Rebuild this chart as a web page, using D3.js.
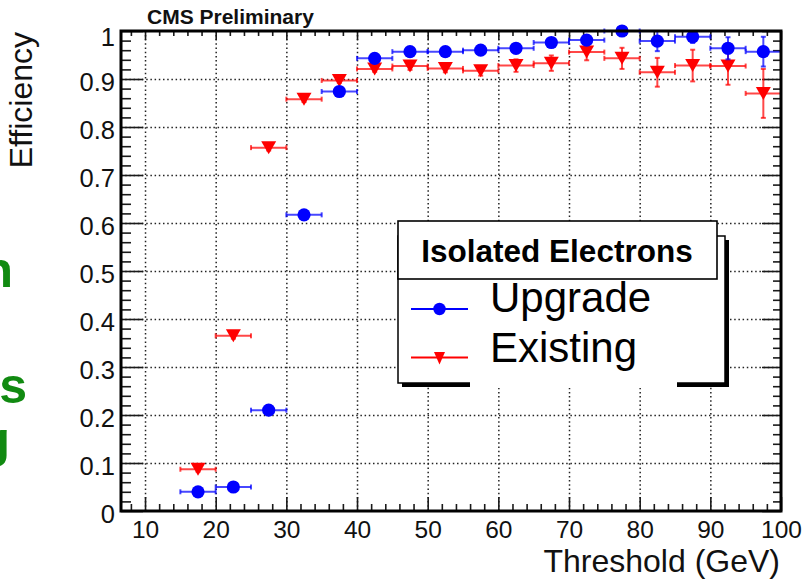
<!DOCTYPE html>
<html><head><meta charset="utf-8">
<script src="https://cdn.jsdelivr.net/npm/d3@7"></script>
<style>
body{margin:0;background:#fff}
svg{display:block}
text{font-family:"Liberation Sans",Arial,Helvetica,sans-serif}
</style>
</head><body>
<svg id="c" width="807" height="585"></svg>
<script>
// ---- data ----
const thresholds = [17.5,22.5,27.5,32.5,37.5,42.5,47.5,52.5,57.5,62.5,67.5,72.5,77.5,82.5,87.5,92.5,97.5];
const binHalfWidth = [2.5,2.5,2.5,2.5,2.5,2.5,2.5,2.5,2.5,2.5,2.5,2.5,2.5,2.5,2.5,2.5,2.5];
const upgrade    = [0.040,0.050,0.210,0.617,0.874,0.943,0.957,0.957,0.960,0.964,0.976,0.981,1.000,0.979,0.988,0.964,0.957];
const upgradeErr = [0.004,0.005,0.008,0.010,0.008,0.006,0.006,0.006,0.006,0.007,0.008,0.008,0.006,0.021,0.013,0.023,0.031];
const existing    = [0.087,0.365,0.757,0.858,0.897,0.921,0.927,0.922,0.917,0.928,0.933,0.956,0.943,0.914,0.928,0.927,0.870];
const existingErr = [0.005,0.006,0.006,0.006,0.005,0.006,0.008,0.008,0.010,0.013,0.016,0.017,0.022,0.030,0.033,0.039,0.051];
const xTickValues = [10,20,30,40,50,60,70,80,90,100];
const xTickLabels = ["10","20","30","40","50","60","70","80","90","100"];
const yTickValues = [0,0.1,0.2,0.3,0.4,0.5,0.6,0.7,0.8,0.9,1];
const yTickLabels = ["0","0.1","0.2","0.3","0.4","0.5","0.6","0.7","0.8","0.9","1"];
const seriesNames = ["Upgrade","Existing"];
const legendTitle = "Isolated Electrons";
const xTitle = "Threshold (GeV)";
const yTitle = "Efficiency";
const topLabel = "CMS Preliminary";
const sideLetters = ["n","s","g"];

// ---- layout ----
const L=121, R=781, T=31, B=511;
const svg = d3.select('#c');
const x = d3.scaleLinear().domain([6.6,100]).range([L,R]);
const y = d3.scaleLinear().domain([0,1]).range([B,T]);
const BLUE = '#0000ff', RED = '#ff0000';

const xMinor = d3.range(8,101,2).filter(v=>v%10!==0);
const yMinor = d3.range(0,51).map(i=>i/50).filter(v=>Math.round(v*50)%5!==0);

// side green letters (ends of slide text cut by the left edge, as in the reference)
const side = svg.append('g').attr('fill','#118a11').attr('font-weight','bold').attr('font-size',50).attr('text-anchor','end');
side.append('text').attr('x',13).attr('y',287).text(sideLetters[0]);
side.append('text').attr('x',27).attr('y',403).text(sideLetters[1]);
side.append('text').attr('x',10).attr('y',457).text(sideLetters[2]);

// grid
const gx = svg.append('g').attr('transform',`translate(0,${B})`)
  .call(d3.axisBottom(x).tickValues(xTickValues.filter(v=>v<100)).tickSize(-(B-T)).tickFormat(''));
const gy = svg.append('g').attr('transform',`translate(${L},0)`)
  .call(d3.axisLeft(y).tickValues(yTickValues.filter(v=>v>0&&v<1)).tickSize(-(R-L)).tickFormat(''));
[gx,gy].forEach(g=>{
  g.select('.domain').remove();
  g.selectAll('line').attr('stroke','#222').attr('stroke-width',1.5).attr('stroke-dasharray','1.5,2.7');
});

// ticks
function tickAxis(axis, tr, vals, size){
  const g = svg.append('g').attr('transform',tr)
    .call(axis.tickValues(vals).tickSizeInner(-size).tickSizeOuter(0).tickFormat(''));
  g.select('.domain').remove();
  g.selectAll('line').attr('stroke','#1a1a1a').attr('stroke-width',1.6);
  return g;
}
tickAxis(d3.axisBottom(x), `translate(0,${B})`, xTickValues, 14);
tickAxis(d3.axisBottom(x), `translate(0,${B})`, xMinor, 7);
tickAxis(d3.axisTop(x), `translate(0,${T})`, xTickValues, 9);
tickAxis(d3.axisTop(x), `translate(0,${T})`, xMinor, 5);
tickAxis(d3.axisLeft(y), `translate(${L},0)`, yTickValues, 22);
tickAxis(d3.axisLeft(y), `translate(${L},0)`, yMinor, 10);
tickAxis(d3.axisRight(y), `translate(${R},0)`, yTickValues, 19);
tickAxis(d3.axisRight(y), `translate(${R},0)`, yMinor, 8);

// tick labels
const xl = svg.append('g').attr('transform',`translate(0,${B})`)
  .call(d3.axisBottom(x).tickValues(xTickValues).tickSize(0).tickPadding(10)
    .tickFormat((d,i)=>xTickLabels[i]));
xl.select('.domain').remove();
xl.selectAll('text').attr('font-size',24.5).attr('fill','#111').attr('font-family','"Liberation Sans",Arial,sans-serif');
const yl = svg.append('g').attr('transform',`translate(${L},0)`)
  .call(d3.axisLeft(y).tickValues(yTickValues).tickSize(0).tickPadding(6)
    .tickFormat((d,i)=>yTickLabels[i]));
yl.select('.domain').remove();
yl.selectAll('text').attr('font-size',25.5).attr('fill','#111').attr('dy',(d)=> d===1 ? 14 : 11)
  .attr('font-family','"Liberation Sans",Arial,sans-serif');

// data: error bars + markers
function drawSeries(vals, errs, color, marker){
  const g = svg.append('g');
  const data = thresholds.map((t,i)=>({t, v:vals[i], e:errs[i], w:binHalfWidth[i]}));
  const eb = g.append('g').attr('stroke',color).attr('stroke-width',2).attr('stroke-opacity',0.72).attr('fill','none');
  data.forEach(d=>{
    const yy = y(d.v), x1 = x(d.t-d.w), x2 = x(d.t+d.w), xc = x(d.t);
    eb.append('line').attr('x1',x1).attr('x2',x2).attr('y1',yy).attr('y2',yy);
    eb.append('line').attr('x1',x1).attr('x2',x1).attr('y1',yy-2.5).attr('y2',yy+2.5);
    eb.append('line').attr('x1',x2).attr('x2',x2).attr('y1',yy-2.5).attr('y2',yy+2.5);
    const ya = y(Math.min(1.0,d.v+d.e)), yb = y(d.v-d.e);
    eb.append('line').attr('x1',xc).attr('x2',xc).attr('y1',ya).attr('y2',yb);
    eb.append('line').attr('x1',xc-2.5).attr('x2',xc+2.5).attr('y1',ya).attr('y2',ya);
    eb.append('line').attr('x1',xc-2.5).attr('x2',xc+2.5).attr('y1',yb).attr('y2',yb);
  });
  if(marker==='circle'){
    g.selectAll('circle').data(data).join('circle')
      .attr('cx',d=>x(d.t)).attr('cy',d=>y(d.v)).attr('r',6.6).attr('fill',color);
  } else {
    g.selectAll('path.m').data(data).join('path').attr('class','m')
      .attr('d','M-7.5,-6.5L7.5,-6.5L0,6.5Z')
      .attr('transform',d=>`translate(${x(d.t)},${y(d.v)})`).attr('fill',color);
  }
}
drawSeries(existing, existingErr, RED, 'triangle');
drawSeries(upgrade, upgradeErr, BLUE, 'circle');

// frame
svg.append('rect').attr('x',L).attr('y',T).attr('width',R-L).attr('height',B-T)
  .attr('fill','none').attr('stroke','#000').attr('stroke-width',3);

// titles
svg.append('text').attr('x',147).attr('y',24).attr('font-size',21).attr('font-weight','bold').attr('fill','#111').text(topLabel);
svg.append('text').attr('x',780).attr('y',572).attr('text-anchor','end').attr('font-size',32).attr('fill','#111').text(xTitle);
svg.append('text').attr('transform','translate(32,32) rotate(-90)').attr('text-anchor','end').attr('font-size',32).attr('fill','#111').text(yTitle);

// legend
const lg = svg.append('g');
lg.append('rect').attr('x',402).attr('y',240).attr('width',327).attr('height',147).attr('fill','#000');
lg.append('rect').attr('x',398).attr('y',236).attr('width',327).attr('height',147).attr('fill','#fff').attr('stroke','#000').attr('stroke-width',1.5);
lg.append('rect').attr('x',470).attr('y',380).attr('width',207).attr('height',8).attr('fill','#fff');
lg.append('rect').attr('x',398).attr('y',221).attr('width',319).attr('height',58).attr('fill','#fff').attr('stroke','#000').attr('stroke-width',1.6);
lg.append('text').attr('x',557).attr('y',262).attr('text-anchor','middle').attr('font-size',31.5).attr('font-weight','bold').attr('fill','#000').text(legendTitle);
lg.append('line').attr('x1',411).attr('x2',468).attr('y1',309).attr('y2',309).attr('stroke',BLUE).attr('stroke-width',1.8);
lg.append('circle').attr('cx',439.5).attr('cy',309).attr('r',6.2).attr('fill',BLUE);
lg.append('line').attr('x1',411).attr('x2',468).attr('y1',357.5).attr('y2',357.5).attr('stroke',RED).attr('stroke-width',1.8);
lg.append('path').attr('d','M-5.5,-6L5.5,-6L0,6.5Z').attr('transform','translate(439.5,358)').attr('fill',RED);
lg.append('text').attr('x',490).attr('y',311.5).attr('font-size',42).attr('fill','#000').text(seriesNames[0]);
lg.append('text').attr('x',490).attr('y',361.5).attr('font-size',42).attr('fill','#000').text(seriesNames[1]);
</script>
</body></html>
